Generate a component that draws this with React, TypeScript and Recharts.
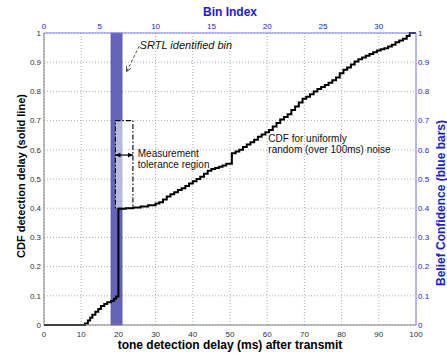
import {
  ComposedChart,
  Line,
  XAxis,
  YAxis,
  CartesianGrid,
  ReferenceArea,
  ReferenceLine,
  ReferenceDot,
} from 'recharts'

// CDF of detection delay (ms -> cumulative fraction)
const cdfMs = [
  0, 11, 11.8, 12.4, 13, 13.8, 14.6, 15.3, 16.2, 17,
  18, 18.8, 19.4, 20, 22, 24, 26, 28, 30, 31,
  32, 33, 34, 35, 36, 37, 38, 39, 40, 41,
  42, 43, 44, 45, 46, 47, 48, 49, 50.5, 51.5,
  52.5, 53.5, 54.5, 55.5, 56.5, 57.5, 58.5, 59.5, 60.5, 61.5,
  62.5, 63.5, 64.5, 65.5, 66.5, 67.5, 68.5, 69.5, 70.5, 71.5,
  72.5, 73.5, 74.5, 75.5, 76.5, 77.5, 78.5, 79.5, 80.5, 81.5,
  82.5, 83.5, 84.5, 85.5, 86.5, 87.5, 88.5, 89.5, 90.5, 91.5,
  92.5, 93.5, 94.5, 95.5, 96.5, 97.5, 98.3, 100,
]
const cdfValue = [
  0, 0.005, 0.015, 0.025, 0.035, 0.045, 0.055, 0.065, 0.072, 0.078,
  0.082, 0.09, 0.098, 0.398, 0.4, 0.402, 0.406, 0.41, 0.416, 0.42,
  0.43, 0.44, 0.448, 0.455, 0.462, 0.468, 0.476, 0.485, 0.492, 0.5,
  0.508, 0.518, 0.528, 0.534, 0.538, 0.542, 0.546, 0.552, 0.588, 0.594,
  0.6, 0.61, 0.618, 0.626, 0.634, 0.645, 0.652, 0.66, 0.668, 0.68,
  0.692, 0.704, 0.712, 0.722, 0.736, 0.748, 0.762, 0.775, 0.782, 0.79,
  0.8, 0.808, 0.815, 0.822, 0.83, 0.838, 0.848, 0.862, 0.874, 0.882,
  0.892, 0.902, 0.91, 0.916, 0.922, 0.928, 0.934, 0.94, 0.944, 0.948,
  0.954, 0.96, 0.968, 0.974, 0.98, 0.99, 1, 1,
]

const msTicks = [0, 10, 20, 30, 40, 50, 60, 70, 80, 90, 100]
const binTicks = [0, 5, 10, 15, 20, 25, 30]
const unitTicks = [0, 0.1, 0.2, 0.3, 0.4, 0.5, 0.6, 0.7, 0.8, 0.9, 1]
const msPerBin = 3
const binMax = 100 / msPerBin

// belief bar: identified bin and its confidence
const beliefBin = [6, 7]
const beliefConfidence = 1

// measurement tolerance box
const toleranceMs = [19.2, 23.9]
const toleranceCdf = [0.4, 0.7]
const toleranceArrowCdf = 0.582

// "SRTL identified bin" pointer
const srtlArrowMs = [25.6, 22.2]
const srtlArrowCdf = [0.955, 0.868]

const data = cdfMs.map((ms, i) => ({ ms, bin: ms / msPerBin, cdf: cdfValue[i] }))

const font = '"Liberation Sans", Arial, Helvetica, sans-serif'
const blue = '#1a1ae6'
const blueAxis = '#7b7bff'
const gray = '#808080'

function head(x: number, y: number, ang: number, len = 5, w = 2.4) {
  const bx = x - len * Math.cos(ang)
  const by = y - len * Math.sin(ang)
  const px = -Math.sin(ang) * w
  const py = Math.cos(ang) * w
  return `M${x},${y} L${bx + px},${by + py} L${bx - px},${by - py} Z`
}

function SrtlArrow(props: any) {
  const { x1, y1, x2, y2 } = props
  const ang = Math.atan2(y2 - y1, x2 - x1)
  const len = 5
  const bx = x2 - len * Math.cos(ang)
  const by = y2 - len * Math.sin(ang)
  const px = -Math.sin(ang) * 2.6
  const py = Math.cos(ang) * 2.6
  return (
    <g>
      <line x1={x1} y1={y1} x2={x2} y2={y2} stroke="#222" strokeWidth={0.8} strokeDasharray="3 2" />
      <path d={`M${bx + px},${by + py} L${x2},${y2} L${bx - px},${by - py}`} fill="none" stroke="#222" strokeWidth={0.8} />
    </g>
  )
}

function DoubleArrow(props: any) {
  const { x1, y1, x2, y2 } = props
  const ang = Math.atan2(y2 - y1, x2 - x1)
  return (
    <g>
      <line x1={x1} y1={y1} x2={x2} y2={y2} stroke="#000" strokeWidth={1.2} />
      <path d={head(x2, y2, ang)} fill="#000" />
      <path d={head(x1, y1, ang + Math.PI)} fill="#000" />
    </g>
  )
}

const note = (lines: string[], opts: { size?: number; italic?: boolean } = {}) => (props: any) => {
  const { viewBox } = props
  const x = viewBox.x + viewBox.width / 2
  const y = viewBox.y + viewBox.height / 2
  const size = opts.size ?? 10
  return (
    <text
      x={x}
      y={y}
      fontFamily={font}
      fontSize={size}
      fontStyle={opts.italic ? 'italic' : 'normal'}
      fill="#111"
    >
      {lines.map((l, i) => (
        <tspan key={i} x={x} dy={i === 0 ? 0 : size * 1.15}>
          {l}
        </tspan>
      ))}
    </text>
  )
}

const leftTitle = (props: any) => {
  const { viewBox } = props
  const x = viewBox.x + 25
  const y = viewBox.y + 143
  return (
    <text x={x} y={y} transform={`rotate(-90 ${x} ${y})`} textAnchor="middle" fontFamily={font} fontSize={11} fontWeight="bold" fill="#000">
      CDF detection delay (solid line)
    </text>
  )
}

const rightTitle = (props: any) => {
  const { viewBox } = props
  const x = viewBox.x + 28.5
  const y = viewBox.y + 170
  return (
    <text x={x} y={y} transform={`rotate(-90 ${x} ${y})`} textAnchor="middle" fontFamily={font} fontSize={12} fontWeight="bold" fill={blue}>
      Belief Confidence (blue bars)
    </text>
  )
}

const bottomTitle = (props: any) => {
  const { viewBox } = props
  return (
    <text x={viewBox.x + viewBox.width / 2} y={viewBox.y + 24} textAnchor="middle" fontFamily={font} fontSize={12} fontWeight="bold" fill="#000">
      tone detection delay (ms) after transmit
    </text>
  )
}

const topTitle = (props: any) => {
  const { viewBox } = props
  return (
    <text x={viewBox.x + viewBox.width / 2} y={viewBox.y + 15.7} textAnchor="middle" fontFamily={font} fontSize={12} fontWeight="bold" fill={blue}>
      Bin Index
    </text>
  )
}

export default function App() {
  return (
    <div style={{ position: 'absolute', left: 0, top: 0, background: '#fff' }}>
      <ComposedChart width={447} height={354} data={data} margin={{ top: 0, right: 0, bottom: 0, left: 0 }}>
        <CartesianGrid
          xAxisId="ms"
          yAxisId="cdf"
          stroke="#9a9a9a"
          strokeDasharray="1 2"
          strokeWidth={0.8}
        />
        <XAxis
          xAxisId="ms"
          dataKey="ms"
          type="number"
          domain={[0, 100]}
          ticks={msTicks}
          height={29}
          stroke={gray}
          tickLine={false}
          tickSize={3}
          tickMargin={3}
          tick={{ fontSize: 8, fontFamily: font, fill: '#333' }}
          label={bottomTitle}
        />
        <XAxis
          xAxisId="bin"
          dataKey="bin"
          orientation="top"
          type="number"
          domain={[0, binMax]}
          ticks={binTicks}
          allowDataOverflow
          height={33}
          stroke={blueAxis}
          tickLine={false}
          tickSize={2}
          tickMargin={2}
          tick={{ fontSize: 8, fontFamily: font, fill: blue }}
          label={topTitle}
        />
        <YAxis
          yAxisId="cdf"
          dataKey="cdf"
          type="number"
          domain={[0, 1]}
          ticks={unitTicks}
          width={44}
          stroke={gray}
          tickLine={false}
          tickSize={2}
          tickMargin={1}
          tick={{ fontSize: 8, fontFamily: font, fill: '#333' }}
          label={leftTitle}
        />
        <YAxis
          yAxisId="belief"
          dataKey="cdf"
          orientation="right"
          type="number"
          domain={[0, 1]}
          ticks={unitTicks}
          allowDataOverflow
          width={31}
          stroke={blueAxis}
          tickLine={false}
          tickSize={1}
          tickMargin={1}
          tick={{ fontSize: 8, fontFamily: font, fill: blue }}
          label={rightTitle}
        />
        <ReferenceArea
          xAxisId="bin"
          yAxisId="belief"
          x1={beliefBin[0]}
          x2={beliefBin[1]}
          y1={0}
          y2={beliefConfidence}
          fill="#6464b8"
          fillOpacity={1}
          stroke="#5050a8"
          strokeWidth={0.6}
        />
        <ReferenceArea
          xAxisId="ms"
          yAxisId="cdf"
          x1={toleranceMs[0]}
          x2={toleranceMs[1]}
          y1={toleranceCdf[0]}
          y2={toleranceCdf[1]}
          fill="#ffffff"
          fillOpacity={0.55}
          stroke="#000"
          strokeWidth={1.1}
          strokeDasharray="5 2 1.5 2"
        />
        <ReferenceLine
          xAxisId="ms"
          yAxisId="cdf"
          segment={[
            { x: toleranceMs[0], y: toleranceArrowCdf },
            { x: toleranceMs[1], y: toleranceArrowCdf },
          ]}
          shape={DoubleArrow}
        />
        <ReferenceLine
          xAxisId="ms"
          yAxisId="cdf"
          segment={[
            { x: srtlArrowMs[0], y: srtlArrowCdf[0] },
            { x: srtlArrowMs[1], y: srtlArrowCdf[1] },
          ]}
          shape={SrtlArrow}
        />
        <Line
          xAxisId="ms"
          yAxisId="cdf"
          dataKey="cdf"
          type="stepAfter"
          stroke="#000"
          strokeWidth={2}
          dot={false}
          isAnimationActive={false}
        />
        <ReferenceDot xAxisId="ms" yAxisId="cdf" x={25.7} y={0.945} r={0} fill="none" stroke="none" label={note(['SRTL identified bin'], { size: 11, italic: true })} />
        <ReferenceDot xAxisId="ms" yAxisId="cdf" x={25.2} y={0.576} r={0} fill="none" stroke="none" label={note(['Measurement', 'tolerance region'])} />
        <ReferenceDot xAxisId="ms" yAxisId="cdf" x={60.3} y={0.628} r={0} fill="none" stroke="none" label={note(['CDF for uniformly', 'random (over 100ms) noise'])} />
      </ComposedChart>
    </div>
  )
}
